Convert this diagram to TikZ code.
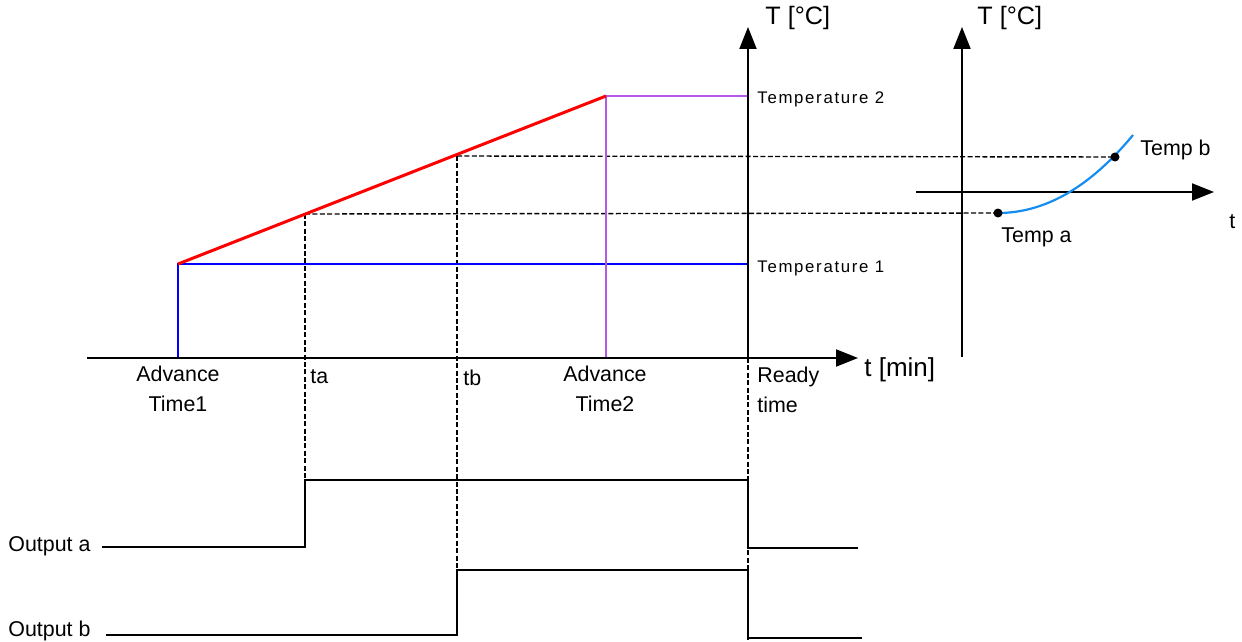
\documentclass[tikz,border=0pt]{standalone}
\usepackage{fontspec}
\setmainfont{Liberation Sans}
\usetikzlibrary{arrows.meta}

\definecolor{setpurple}{RGB}{178,90,232}
\definecolor{curveblue}{RGB}{20,140,240}

\tikzset{
  axis/.style={line width=1pt,-{Triangle[length=11pt,width=8.5pt]}},
  guide/.style={line width=0.7pt,dash pattern=on 2.5pt off 1.2pt},
  signal/.style={line width=1pt},
  dot/.style={circle,fill=black,inner sep=0pt,minimum size=4.5pt},
  lbl/.style={inner sep=0pt,font=\fontsize{10.7}{15}\selectfont},
  tlbl/.style={inner sep=0pt,font=\fontsize{8.4}{10}\selectfont\addfontfeatures{LetterSpace=10}},
  axlbl/.style={inner sep=0pt,font=\fontsize{12.6}{15}\selectfont},
}

\begin{document}
\begin{tikzpicture}[x=0.5pt,y=-0.5pt]
  \useasboundingbox (0,0) rectangle (1242,642);

  % points of the main diagram
  \coordinate (A1) at (178,358);
  \coordinate (T1) at (178,264);
  \coordinate (T1e) at (748,264);
  \coordinate (A2) at (606,358);
  \coordinate (T2) at (606,96);
  \coordinate (T2e) at (748,96);
  \coordinate (Pa) at (305,214);
  \coordinate (Pb) at (457,156);
  \coordinate (O) at (748,358);

  % points of the small diagram
  \coordinate (Ta) at (998,213);
  \coordinate (Tb) at (1115,157);

  % dashed guides
  \draw[guide] (Pa) -- (Ta);
  \draw[guide] (Pb) -- (Tb);
  \draw[guide] (Pa) -- (305,480);
  \draw[guide] (Pb) -- (457,570);
  \draw[guide] (O) -- (748,640);

  % set points
  \draw[blue,line width=0.75pt] (A1) -- (T1) -- (T1e);
  \draw[setpurple,line width=0.75pt] (A2) -- (T2) -- (T2e);
  \draw[red,line width=1.5pt] (T1) -- (T2);

  % axes
  \draw[axis] (87,358) -- (858,358);
  \draw[axis] (O) -- (748,27);
  \draw[axis] (962,357) -- (962,27);
  \draw[axis] (916,192) -- (1214,192);

  % curve
  \draw[curveblue,line width=1.1pt] (Ta) .. controls (1046,213) and (1091,186) .. (1133,135);
  \node[dot] (da) at (Ta) {};
  \node[dot] (db) at (Tb) {};

  % outputs
  \draw[signal] (102,547) -- (305,547) -- (305,480) -- (748,480) -- (748,548) -- (858,548);
  \draw[signal] (106,635) -- (457,635) -- (457,570) -- (748,570) -- (748,638) -- (862,638);

  % labels
  \node[axlbl,anchor=west] (Tax) at (765,18) {T [°C]};
  \node[axlbl,anchor=west] (Tax2) at (977,18) {T [°C]};
  \node[axlbl,anchor=west,font=\fontsize{13}{15}\selectfont] (tax) at (864,370) {t [min]};
  \node[lbl,anchor=west] (tax2) at (1229,222) {t};
  \node[tlbl,anchor=west] (lt2) at (757,99) {Temperature 2};
  \node[tlbl,anchor=west] (lt1) at (757,268) {Temperature 1};
  \node[lbl,anchor=north,align=center] (la1) at (178,366) {Advance\\Time1};
  \node[lbl,anchor=north,align=center] (la2) at (605,366) {Advance\\Time2};
  \node[lbl,anchor=north west] (lta) at (310,369) {ta};
  \node[lbl,anchor=north west] (ltb) at (463,370) {tb};
  \node[lbl,anchor=north west,align=left] (lrt) at (757,367) {Ready\\time};
  \node[lbl,anchor=base west] (loa) at (8,551) {Output a};
  \node[lbl,anchor=base west] (lob) at (8,636) {Output b};
  \node[lbl,anchor=west] (ltb2) at (1140,150) {Temp b};
  \node[lbl,anchor=north west] (lta2) at (1001,227) {Temp a};
\end{tikzpicture}
\end{document}
